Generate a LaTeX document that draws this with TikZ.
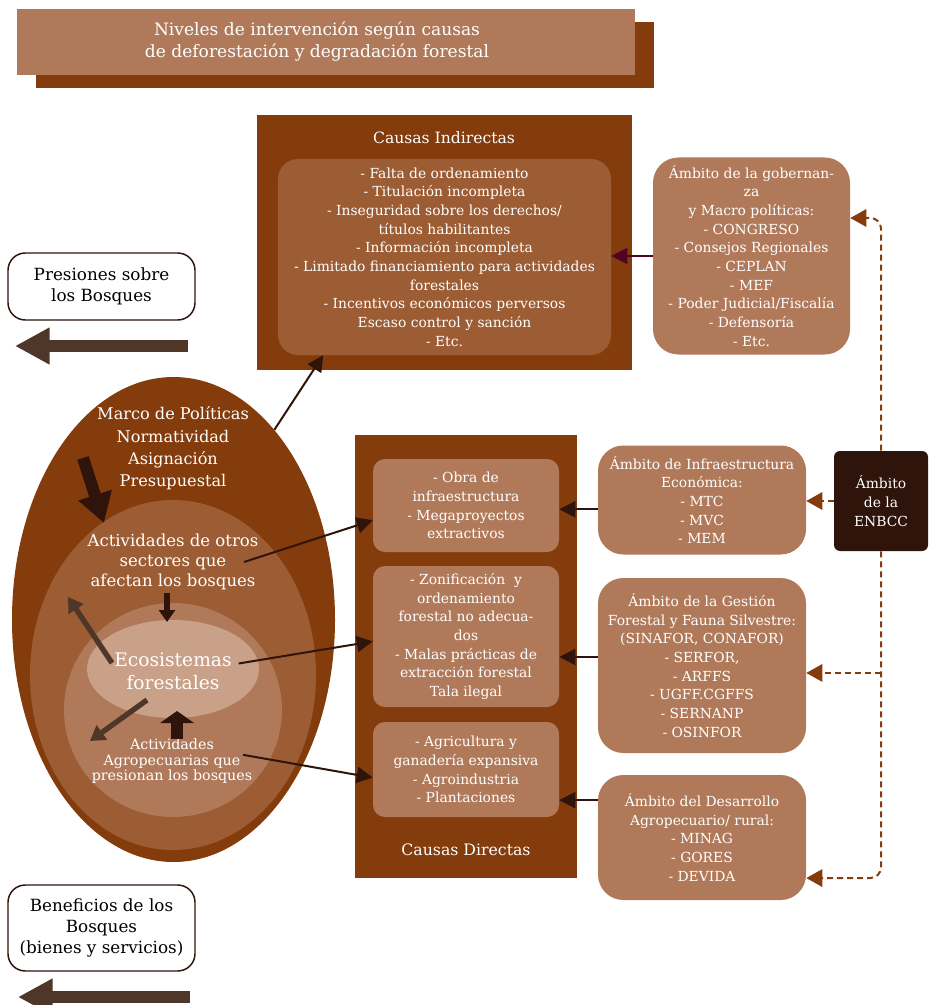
\documentclass[tikz,border=0pt]{standalone}
\usepackage{fontspec}
\setmainfont{DejaVu Serif}
\usetikzlibrary{shapes.geometric,arrows.meta}
\definecolor{cafeOsc}{RGB}{132,60,12}
\definecolor{cafeMed}{RGB}{156,92,52}
\definecolor{cafeCla}{RGB}{176,122,90}
\definecolor{cafePal}{RGB}{201,160,136}
\definecolor{cafeNeg}{RGB}{46,20,10}
\definecolor{cafeGris}{RGB}{78,54,41}
\definecolor{vino}{RGB}{80,5,35}
\tikzset{
	tam/.style 2 args={minimum width=#1*0.75pt,minimum height=#2*0.75pt,inner sep=0pt},
	gorda/.style={line width=#1,line cap=butt}
}
\begin{document}
\begin{tikzpicture}[x=0.75pt,y=-0.75pt,font=\fontsize{10.4}{14}\selectfont,line join=round,>={Triangle[length=12pt,width=12pt]},
	caja/.style={fill=cafeCla,text=white,align=center,rounded corners=19pt},
	cajita/.style={fill=cafeCla,text=white,align=center,rounded corners=9pt},
	blanco/.style={text=white,align=center,inner sep=0pt},
	nota/.style={fill=white,draw=cafeNeg,line width=1.1pt,align=center,rounded corners=13pt,font=\fontsize{12.6}{16}\selectfont},
	flecha/.style={cafeNeg,line width=1.5pt,->},
	punteado/.style={cafeOsc,line width=1.5pt,dash pattern=on 4.5pt off 3pt,-{Triangle[length=12pt,width=13pt]}}]
	\useasboundingbox (0,0) rectangle (928,1005);
	% titulo
	\node[tam={618}{66},fill=cafeOsc] (tituloSombra) at (344.5,55) {};
	\node[tam={618}{66},fill=cafeCla] (titulo) at (326,42) {};
	\node[blanco,font=\fontsize{12.8}{16.5}\selectfont] (tituloTxt) at (317,42) {Niveles de intervención según causas\\de deforestación y degradación forestal};
	% causas indirectas
	\node[tam={375}{255},fill=cafeOsc] (ci) at (444.5,242.5) {};
	\node[blanco,font=\fontsize{11.7}{14}\selectfont] (ciTit) at (444,138) {Causas Indirectas};
	\node[tam={333}{196},fill=cafeMed,rounded corners=15pt,text=white,align=center] (cii) at (444.5,257) {- Falta de ordenamiento\\- Titulación incompleta\\- Inseguridad sobre los derechos/\\títulos habilitantes\\- Información incompleta\\- Limitado financiamiento para actividades\\forestales\\- Incentivos económicos perversos\\Escaso control y sanción\\- Etc.};
	\node[caja,tam={197}{197}] (aGob) at (751.5,256) {Ámbito de la gobernan-\\za\\y Macro políticas:\\- CONGRESO\\- Consejos Regionales\\- CEPLAN\\- MEF\\- Poder Judicial/Fiscalía\\- Defensoría\\- Etc.};
	% causas directas
	\node[tam={222}{443},fill=cafeOsc] (cd) at (466,656.5) {};
	\node[blanco,font=\fontsize{11.8}{14}\selectfont] (cdTit) at (466,850) {Causas Directas};
	\node[cajita,tam={186}{93}] (b1) at (466,505.5) {- Obra de\\infraestructura\\- Megaproyectos\\extractivos};
	\node[cajita,tam={186}{141}] (b2) at (466,636.5) {- Zonificación\ \ y\\ordenamiento\\forestal no adecua-\\dos\\- Malas prácticas de\\extracción forestal\\Tala ilegal};
	\node[cajita,tam={186}{95}] (b3) at (466,769.5) {- Agricultura y\\ganadería expansiva\\- Agroindustria\\- Plantaciones};
	% ambitos
	\node[caja,tam={208}{109}] (aInfra) at (702,500) {Ámbito de Infraestructura\\Económica:\\- MTC\\- MVC\\- MEM};
	\node[caja,tam={208}{175}] (aGest) at (702,665.5) {Ámbito de la Gestión\\Forestal y Fauna Silvestre:\\(SINAFOR, CONAFOR)\\- SERFOR,\\- ARFFS\\- UGFF.CGFFS\\- SERNANP\\- OSINFOR};
	\node[caja,tam={208}{125}] (aDes) at (702,837.5) {Ámbito del Desarrollo\\Agropecuario/ rural:\\- MINAG\\- GORES\\- DEVIDA};
	\node[tam={94}{100},fill=cafeNeg,rounded corners=4.5pt,text=white,align=center] (enbcc) at (881,501) {Ámbito\\de la\\ENBCC};
	% izquierda
	\node[nota,tam={187}{67}] (pres) at (101.5,286.5) {Presiones sobre\\los Bosques};
	\node[nota,tam={187}{86}] (benef) at (101.5,928) {Beneficios de los\\Bosques\\(bienes y servicios)};
	\draw[gorda=9pt,cafeGris,-{Triangle[length=26pt,width=26pt]}] (188,346) -- (15,346);
	\draw[gorda=8.5pt,cafeGris,-{Triangle[length=26pt,width=26pt]}] (190,997) -- (18,997);
	% elipses
	\node[ellipse,tam={323}{485},fill=cafeOsc] (eExt) at (173.5,619.5) {};
	\node[ellipse,tam={286}{350},fill=cafeMed] (eMed) at (173,675) {};
	\node[ellipse,tam={218}{214},fill=cafeCla] (eInt) at (173,710) {};
	\node[ellipse,tam={172}{98},fill=cafePal] (eEco) at (173,669) {};
	\node[blanco,font=\fontsize{12.1}{16.7}\selectfont] (tMarco) at (173,448.5) {Marco de Políticas\\Normatividad\\Asignación\\Presupuestal};
	\node[blanco,font=\fontsize{12.4}{15}\selectfont] (tOtros) at (173,562) {Actividades de otros\\sectores que\\afectan los bosques};
	\node[blanco,font=\fontsize{14}{17.3}\selectfont] (tEco) at (173,671.5) {Ecosistemas\\forestales};
	\node[blanco,font=\fontsize{10.7}{11.6}\selectfont] (tAgro) at (172,761.5) {Actividades\\Agropecuarias que\\presionan los bosques};
	\draw[gorda=9pt,cafeNeg,-{Triangle[length=22pt,width=25pt]}] (83,458) -- (104,523);
	\draw[gorda=4pt,cafeNeg,-{Triangle[length=9pt,width=12pt]}] (167,593) -- (167,622);
	\draw[gorda=4pt,cafeGris,-{Triangle[length=11pt,width=13pt]}] (112,663) -- (68,597);
	\draw[gorda=4pt,cafeGris,-{Triangle[length=11pt,width=13pt]}] (147,700) -- (90,741);
	\draw[gorda=8.5pt,cafeNeg,-{Triangle[length=9pt,width=25pt]}] (177,739) -- (177,711);
	% conectores
	\draw[flecha] (eExt.62) -- (cii.219);
	\draw[flecha] ([xshift=-11pt]tOtros.east) -- (b1.189);
	\draw[flecha] ([xshift=5pt,yshift=6pt]tEco.east) -- (b2.183);
	\draw[flecha] ([xshift=-7pt,yshift=5pt]tAgro.east) -- (b3.185);
	\draw[flecha,vino] (aGob.west) -- (aGob.west -| cii.east);
	\coordinate (pInfra) at ([yshift=-7pt]aInfra.west);
	\coordinate (pGest) at ([yshift=6.4pt]aGest.west);
	\coordinate (pDes) at ([yshift=28pt]aDes.west);
	\draw[flecha] (pInfra) -- (pInfra -| b1.east);
	\draw[flecha] (pGest) -- (pGest -| b2.east);
	\draw[flecha] (pDes) -- (pDes -| b3.east);
	% enbcc
	\coordinate (dGob) at ([yshift=28.5pt]aGob.east);
	\coordinate (dGest) at ([yshift=-5.6pt]aGest.east);
	\coordinate (dDes) at ([yshift=-30.4pt]aDes.east);
	\draw[punteado,rounded corners=8pt] (enbcc.north) |- (dGob);
	\draw[punteado] (enbcc.west) -- (enbcc.west -| aInfra.east);
	\draw[punteado] (enbcc.south |- dGest) -- (dGest);
	\draw[punteado,rounded corners=8pt] (enbcc.south) |- (dDes);
\end{tikzpicture}
\end{document}
